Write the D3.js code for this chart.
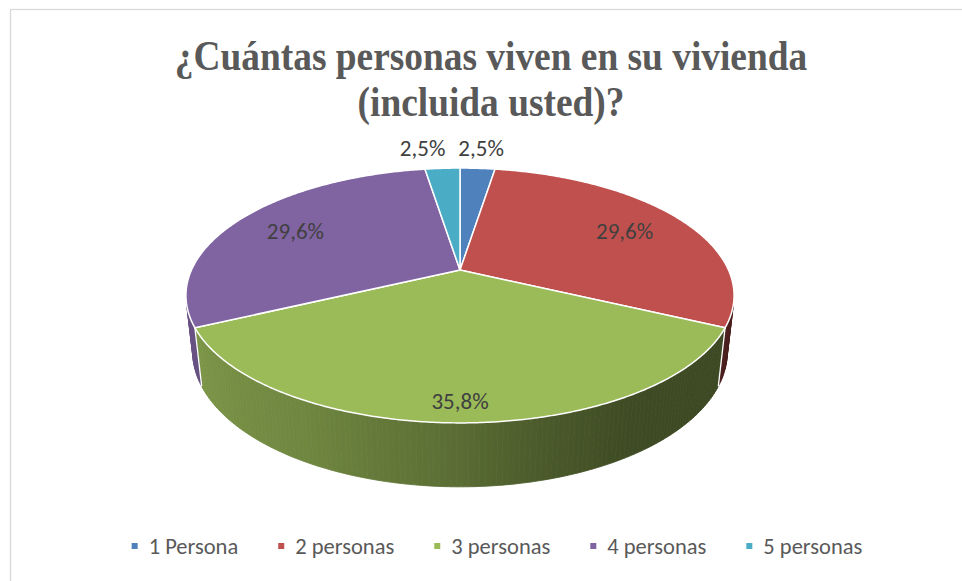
<!DOCTYPE html>
<html>
<head>
<meta charset="utf-8">
<script src="https://cdn.jsdelivr.net/npm/d3@7"></script>
<style>
  body { margin: 0; background: #fff; }
  svg { display: block; }
</style>
</head>
<body>
<div id="chart"></div>
<script>
// chart size
var svgWidth = 962;
var svgHeight = 581;

// data
var titleLines = ["¿Cuántas personas viven en su vivienda", "(incluida usted)?"];
var categories = ["1 Persona", "2 personas", "3 personas", "4 personas", "5 personas"];
var percents = [2.5, 29.6, 35.8, 29.6, 2.5];
var colors = ["#4f81bd", "#c0504d", "#9bbb59", "#8064a2", "#4bacc6"];

// 3d view (camera distance = 1)
var cx = 460, cy = 270;
var tilt = 27.1 * Math.PI / 180;
var radius = 0.2247;
var focal = 1195;
var thick = 0.053;

var labelFont = "Calibri, Carlito, Lato, sans-serif";

var svg = d3.select("#chart")
  .append("svg")
  .attr("width", svgWidth)
  .attr("height", svgHeight);

// outer frame
svg.append("rect")
  .attr("x", 10.5)
  .attr("y", 9.5)
  .attr("width", 980)
  .attr("height", 600)
  .attr("fill", "#fff")
  .attr("stroke", "#d9d9d9")
  .attr("stroke-width", 1.3);

// title (the serif face is set a bit condensed, like the original)
svg.append("g")
  .selectAll("text")
  .data(titleLines)
  .enter()
  .append("text")
  .attr("transform", (d, i) => `translate(491, ${70 + i * 46}) scale(0.89, 1)`)
  .attr("text-anchor", "middle")
  .attr("font-family", "'Liberation Serif', 'Times New Roman', serif")
  .attr("font-weight", "bold")
  .attr("font-size", 42)
  .attr("fill", "#595959")
  .text(d => d);

// project a point of the pie (angle clockwise from 12 o'clock, radius share, height)
function project(phi, r, y) {
  var X = r * radius * Math.sin(phi);
  var Z = -r * radius * Math.cos(phi);
  var yc = Z * Math.sin(tilt) - y * Math.cos(tilt);
  var dz = 1 - (Z * Math.cos(tilt) + y * Math.sin(tilt));
  return [cx + focal * X / dz, cy + focal * yc / dz];
}

var arcs = d3.pie().sort(null).value(d => d)(percents);
arcs.forEach((d, i) => { d.color = colors[i]; d.name = categories[i]; });

var line = d3.line();
var step = Math.PI / 360;

// side wall can be seen only where it faces the camera
var visStart = Math.acos(-radius / Math.cos(tilt));
var visEnd = 2 * Math.PI - visStart;

// light on the side wall, by angle in degrees
var shade = d3.scaleLinear()
  .domain([105, 148, 169, 180, 209, 255])
  .range([0.38, 0.40, 0.50, 0.58, 0.72, 0.82])
  .clamp(true);

function shadeColor(c, k) {
  var col = d3.rgb(c);
  return d3.rgb(col.r * k, col.g * k, col.b * k).formatHex();
}

var wallGroup = svg.append("g");
var wallParts = [];
arcs.forEach(function(d) {
  var a = Math.max(d.startAngle, visStart);
  var b = Math.min(d.endAngle, visEnd);
  for (var t = a; t < b; t += Math.PI / 180) {
    var t2 = Math.min(t + Math.PI / 180, b);
    wallParts.push({
      pts: [project(t, 1, 0), project(t2, 1, 0), project(t2, 1, -thick), project(t, 1, -thick)],
      fill: shadeColor(d.color, shade((t + t2) / 2 * 180 / Math.PI))
    });
  }
});

wallGroup.selectAll("path")
  .data(wallParts)
  .enter()
  .append("path")
  .attr("d", d => line(d.pts) + "Z")
  .attr("fill", d => d.fill)
  .attr("stroke", d => d.fill)
  .attr("stroke-width", 0.8);

// white seams between slices on the wall
wallGroup.selectAll("line")
  .data(arcs.filter(d => d.startAngle > visStart && d.startAngle < visEnd))
  .enter()
  .append("line")
  .attr("x1", d => project(d.startAngle, 1, 0)[0])
  .attr("y1", d => project(d.startAngle, 1, 0)[1])
  .attr("x2", d => project(d.startAngle, 1, -thick)[0])
  .attr("y2", d => project(d.startAngle, 1, -thick)[1])
  .attr("stroke", "#fff")
  .attr("stroke-width", 1.3);

// top faces
function topPath(d) {
  var pts = [[cx, cy]];
  for (var t = d.startAngle; t < d.endAngle; t += step) {
    pts.push(project(t, 1, 0));
  }
  pts.push(project(d.endAngle, 1, 0));
  return line(pts) + "Z";
}

svg.append("g")
  .selectAll("path")
  .data(arcs)
  .enter()
  .append("path")
  .attr("d", topPath)
  .attr("fill", d => d.color)
  .attr("stroke", "#fff")
  .attr("stroke-width", 1.5)
  .attr("stroke-linejoin", "round");

// data labels
var esFormat = d3.formatLocale({ decimal: ",", thousands: ".", grouping: [3], currency: ["", " €"] }).format(".1f");

function labelR(d) {
  var mid = (d.startAngle + d.endAngle) / 2;
  if (d.endAngle - d.startAngle < 0.1 * Math.PI) return 1.25;
  return 0.74 + 0.14 * Math.max(0, -Math.cos(mid));
}

var labels = svg.append("g")
  .selectAll("text")
  .data(arcs)
  .enter()
  .append("text")
  .attr("text-anchor", "middle")
  .attr("dy", "0.35em")
  .attr("font-family", labelFont)
  .attr("font-size", 23)
  .attr("fill", "#404040")
  .text(d => esFormat(d.data) + "%")
  .each(function(d) {
    var p = project((d.startAngle + d.endAngle) / 2, labelR(d), 0);
    d.lx = p[0];
    d.ly = p[1];
    d.outside = labelR(d) > 1;
    d.w = this.getComputedTextLength();
  });

// push apart outside labels that collide
var outside = arcs.filter(d => d.outside).sort((a, b) => a.lx - b.lx);
for (var i = outside.length - 2; i >= 0; i--) {
  var l = outside[i], r = outside[i + 1];
  var gap = 13;
  if (l.lx + l.w / 2 + gap > r.lx - r.w / 2) {
    l.lx = r.lx - r.w / 2 - gap - l.w / 2;
  }
}

labels.attr("x", d => d.lx).attr("y", d => d.ly);

// legend
var legend = svg.append("g");
var items = legend.selectAll("g")
  .data(arcs)
  .enter()
  .append("g");

items.append("rect")
  .attr("width", 6)
  .attr("height", 6)
  .attr("y", -3)
  .attr("fill", d => d.color);

items.append("text")
  .attr("x", 17)
  .attr("dy", "0.35em")
  .attr("font-family", labelFont)
  .attr("font-size", 22.5)
  .attr("fill", "#595959")
  .text(d => d.name);

var xPos = 0;
items.each(function(d) {
  d3.select(this).attr("transform", `translate(${xPos}, 0)`);
  xPos += 17 + d3.select(this).select("text").node().getComputedTextLength() + 40;
});
var legendWidth = xPos - 40;
legend.attr("transform", `translate(${497 - legendWidth / 2}, 546)`);
</script>
</body>
</html>
